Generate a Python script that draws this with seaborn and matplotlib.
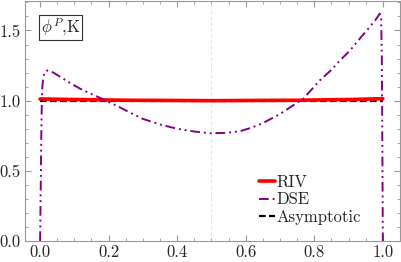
import matplotlib
matplotlib.use('Agg')
from matplotlib import pyplot as plt
import seaborn as sns
import pandas as pd

# data
riv_x = [0.0, 0.1, 0.25, 0.5, 0.75, 0.9, 1.0]
riv_y = [1.012, 1.008, 1.003, 1.0, 1.003, 1.008, 1.014]

asy_x = [0.0, 1.0]
asy_y = [1.0, 1.0]

dse_x = [0.0, 0.002, 0.004, 0.006, 0.009, 0.013, 0.02, 0.03, 0.04, 0.052, 0.068, 0.09,
         0.117, 0.15, 0.19, 0.233, 0.262, 0.3, 0.35, 0.4, 0.45, 0.496, 0.54,
         0.583, 0.62, 0.65, 0.7, 0.768, 0.816, 0.85, 0.875, 0.905, 0.933,
         0.96, 0.98, 0.991, 0.995, 0.997, 0.998, 0.999, 1.0]
dse_y = [0.0, 0.4, 0.85, 1.08, 1.16, 1.2, 1.215, 1.21, 1.198, 1.18, 1.156, 1.122,
         1.085, 1.047, 1.003, 0.952, 0.915, 0.87, 0.83, 0.80, 0.78, 0.768, 0.77,
         0.782, 0.81, 0.84, 0.905, 1.014, 1.144, 1.22, 1.286, 1.36, 1.443,
         1.52, 1.58, 1.62, 1.58, 1.3, 0.9, 0.45, 0.0]

df_riv = pd.DataFrame({'x': riv_x, 'y': riv_y})
df_dse = pd.DataFrame({'x': dse_x, 'y': dse_y})
df_asy = pd.DataFrame({'x': asy_x, 'y': asy_y})

sns.set_style('ticks')
plt.rcParams['font.family'] = ['cmr10', 'DejaVu Serif']
plt.rcParams['mathtext.fontset'] = 'cm'
plt.rcParams['axes.formatter.use_mathtext'] = True

fig = plt.figure(figsize=(4.01, 2.62), dpi=100)
ax = fig.add_axes([25 / 401, 21 / 262, 375 / 401, 240 / 262])

ax.axvline(0.5, color='#e2e2e2', lw=0.7, ls=(0, (3, 3)), zorder=0)

sns.lineplot(data=df_asy, x='x', y='y', ax=ax, color='black', lw=1.6,
             linestyle=(0, (3, 1.5)), label='Asymptotic', zorder=2)
sns.lineplot(data=df_riv, x='x', y='y', ax=ax, color='#ff0000', lw=2.6,
             label='RIV', zorder=3)
sns.lineplot(data=df_dse, x='x', y='y', ax=ax, color='#850085', lw=1.4,
             linestyle=(0, (5, 2, 1, 2, 1, 2)), label='DSE', zorder=4,
             sort=False)

ax.set_xlim(-0.044, 1.05)
ax.set_ylim(0, 1.71)
ax.set_xticks([0.0, 0.2, 0.4, 0.6, 0.8, 1.0])
ax.set_yticks([0.0, 0.5, 1.0, 1.5])
ax.set_xticks([i * 0.05 for i in range(21)], minor=True)
ax.set_yticks([i * 0.1 for i in range(18)], minor=True)
ax.set_xticklabels(['0.0', '0.2', '0.4', '0.6', '0.8', '1.0'])
ax.set_yticklabels(['0.0', '0.5', '1.0', '1.5'])
ax.set_xlabel('')
ax.set_ylabel('')
ax.tick_params(which='both', direction='in', top=True, right=True,
               color='#999999', labelsize=12, pad=3)
ax.tick_params(which='major', length=4)
ax.tick_params(which='minor', length=2)
for s in ax.spines.values():
    s.set_color('#999999')
    s.set_linewidth(0.8)

h, l = ax.get_legend_handles_labels()
order = [l.index('RIV'), l.index('DSE'), l.index('Asymptotic')]
ax.legend([h[i] for i in order], [l[i] for i in order], loc='lower left',
          bbox_to_anchor=(0.605, 0.04), frameon=False, fontsize=12,
          handlelength=1.0, handletextpad=0.1, labelspacing=0.12,
          borderaxespad=0)

ax.text(0.042, 0.935, r'$\phi^P$,K', transform=ax.transAxes, fontsize=12,
        va='top', ha='left',
        bbox=dict(boxstyle='square,pad=0.12', fc='white', ec='#333333', lw=0.8))

fig.savefig('out.png', dpi=100)
